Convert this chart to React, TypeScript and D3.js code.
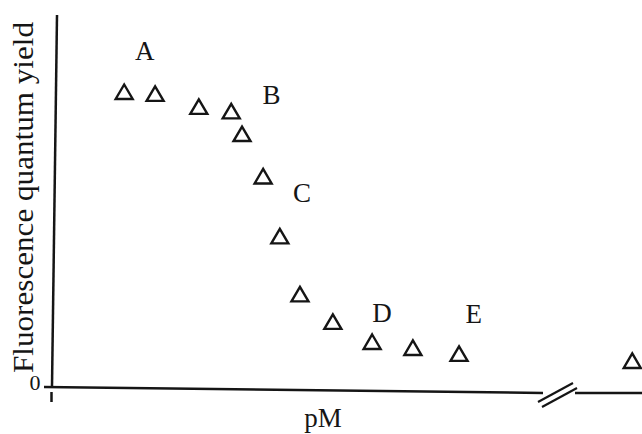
import React from "react";
import * as d3 from "d3";

// Titration: fluorescence quantum yield vs. pM
const pM = [1.47, 2.1, 2.99, 3.65, 3.87, 4.3, 4.64, 5.05, 5.72, 6.52, 7.35, 8.29];
const yieldValues = [0.793, 0.788, 0.753, 0.741, 0.68, 0.566, 0.405, 0.249, 0.175, 0.121, 0.105, 0.089];

// Point plotted past the axis break (large excess)
const breakPM = [0.85];
const breakYield = [0.07];

// Region labels
const regionNames = ["A", "B", "C", "D", "E"];
const regionPM = [1.89, 4.47, 5.09, 6.72, 8.59];
const regionYield = [0.879, 0.761, 0.497, 0.175, 0.172];

const yTitle = "Fluorescence quantum yield";
const xTitle = "pM";
const zeroLabel = "0";

const W = 642;
const H = 434;
const FONT = "'Liberation Serif', 'Times New Roman', serif";
const INK = "#151515";

export default function App() {
  const x = d3.scaleLinear().domain([0, 10]).range([52, 543]);
  const xBreak = d3.scaleLinear().domain([0, 1]).range([577, 642]);
  const y = d3.scaleLinear().domain([0, 1]).range([387, 15]);

  const tri = (cx: number, cy: number) =>
    `M${cx},${cy - 7.5}L${cx + 8.5},${cy + 7}L${cx - 8.5},${cy + 7}Z`;

  const pts = pM.map((v, i) => ({ cx: x(v), cy: y(yieldValues[i]) }));
  const bpts = breakPM.map((v, i) => ({ cx: xBreak(v), cy: y(breakYield[i]) }));

  const axisY0 = y(0);

  return (
    <svg
      width={W}
      height={H}
      style={{ position: "fixed", left: 0, top: 0, background: "#fff" }}
    >
      <rect width={W} height={H} fill="#fff" />
      {/* y axis */}
      <line x1={57} y1={y(1)} x2={52} y2={axisY0} stroke={INK} strokeWidth={2.5} />
      <line x1={51.5} y1={axisY0 + 5} x2={51.5} y2={axisY0 + 15} stroke={INK} strokeWidth={2.5} />
      {/* x axis, broken near the right end */}
      <line x1={44} y1={axisY0} x2={x(10)} y2={axisY0 + 6} stroke={INK} strokeWidth={2.5} />
      <line x1={xBreak(0) - 2} y1={axisY0 + 6} x2={W} y2={axisY0 + 6} stroke={INK} strokeWidth={2.5} />
      <line x1={538} y1={axisY0 + 15} x2={573} y2={axisY0 - 4} stroke={INK} strokeWidth={2.2} />
      <line x1={542} y1={axisY0 + 20} x2={577} y2={axisY0 + 1} stroke={INK} strokeWidth={2.2} />

      {/* data points */}
      {pts.concat(bpts).map((p, i) => (
        <path
          key={i}
          d={tri(p.cx, p.cy)}
          fill="none"
          stroke={INK}
          strokeWidth={2.4}
          strokeLinejoin="miter"
        />
      ))}

      {/* region labels */}
      {regionNames.map((n, i) => (
        <text
          key={n}
          x={x(regionPM[i])}
          y={y(regionYield[i])}
          textAnchor="middle"
          fontFamily={FONT}
          fontSize={27}
          fill={INK}
        >
          {n}
        </text>
      ))}

      {/* axis labels */}
      <text x={35} y={390} textAnchor="middle" fontFamily={FONT} fontSize={22} fill={INK}>
        {zeroLabel}
      </text>
      <text x={323} y={427} textAnchor="middle" fontFamily={FONT} fontSize={27} fill={INK}>
        {xTitle}
      </text>
      <text
        transform={`translate(33,197.5) rotate(-90)`}
        textAnchor="middle"
        fontFamily={FONT}
        fontSize={29}
        textLength={351}
        lengthAdjust="spacingAndGlyphs"
        fill={INK}
      >
        {yTitle}
      </text>
    </svg>
  );
}
